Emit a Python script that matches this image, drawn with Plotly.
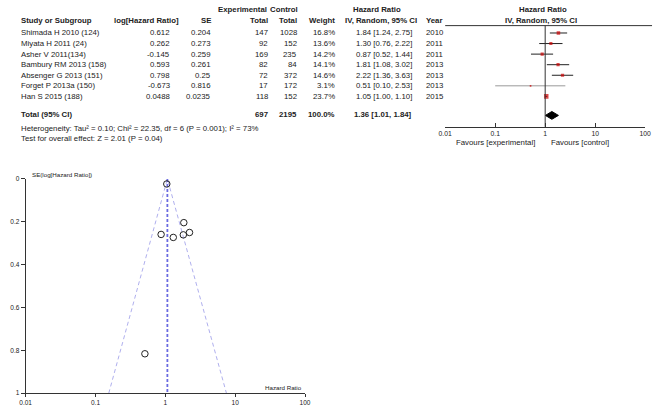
import plotly.graph_objects as go

# data read from the RevMan forest + funnel plot
studies = ["Shimada H 2010 (124)", "Miyata H 2011 (24)", "Asher V 2011(134)",
           "Bambury RM 2013 (158)", "Absenger G 2013 (151)", "Forget P 2013a (150)",
           "Han S 2015 (188)"]
log_hr = [0.612, 0.262, -0.145, 0.593, 0.798, -0.673, 0.0488]
se = [0.204, 0.273, 0.259, 0.261, 0.25, 0.816, 0.0235]
exp_total = [147, 92, 169, 82, 72, 17, 118]
ctrl_total = [1028, 152, 235, 84, 372, 172, 152]
weight = [16.8, 13.6, 14.2, 14.1, 14.6, 3.1, 23.7]
hr = [1.84, 1.30, 0.87, 1.81, 2.22, 0.51, 1.05]
ci_low = [1.24, 0.76, 0.52, 1.08, 1.36, 0.10, 1.00]
ci_high = [2.75, 2.22, 1.44, 3.02, 3.63, 2.53, 1.10]
years = [2010, 2011, 2011, 2013, 2013, 2013, 2015]

total_exp = 697
total_ctrl = 2195
total_hr = 1.36
total_low = 1.01
total_high = 1.84

# funnel: apex (fixed-effect HR) and 95% limits at SE = 1
funnel_center = 1.07
funnel_low_at_1 = 0.155
funnel_high_at_1 = 7.5

tick_vals = [0.01, 0.1, 1, 10, 100]
tick_text = ["0.01", "0.1", "1", "10", "100"]
se_ticks = [0, 0.2, 0.4, 0.6, 0.8, 1]

W, H = 660, 407
FONT = "Liberation Sans, Arial, sans-serif"
TXT = "#222222"


def px(x):
    return x / W


def py(y):
    return 1 - y / H


# row layout of the forest part (row index -> y axis)
rows = list(range(len(studies)))
total_row = 7.8
fy_top, fy_bot = 22, 125  # pixels
row0_px, row_step = 29.5, 10.75


def row_px(r):
    return row0_px + r * row_step


fig = go.Figure()

# ---- forest plot ----
for i in rows:
    fig.add_trace(go.Scatter(
        x=[ci_low[i], ci_high[i]], y=[i, i], mode="lines",
        line=dict(color="#999999" if weight[i] < 5 else "#222222", width=1),
        xaxis="x", yaxis="y", showlegend=False, hoverinfo="skip"))

fig.add_trace(go.Scatter(
    x=hr, y=rows, mode="markers",
    marker=dict(symbol="square", color="#cc0000",
                size=[1.2 + w * 0.14 for w in weight], line=dict(width=0)),
    xaxis="x", yaxis="y", showlegend=False))

fig.add_trace(go.Scatter(
    x=[total_low, total_hr, total_high, total_hr, total_low],
    y=[total_row, total_row - 0.37, total_row, total_row + 0.37, total_row],
    mode="lines", fill="toself", fillcolor="black", line=dict(color="black", width=1),
    xaxis="x", yaxis="y", showlegend=False))

# ---- funnel plot ----
fig.add_trace(go.Scatter(
    x=[funnel_low_at_1, funnel_center, funnel_high_at_1], y=[1, 0, 1], mode="lines",
    line=dict(color="#9a9ae8", width=0.8, dash="4px,3px"),
    xaxis="x2", yaxis="y2", showlegend=False))
fig.add_trace(go.Scatter(
    x=[funnel_center, funnel_center], y=[0, 1], mode="lines",
    line=dict(color="#6a6ae0", width=1.8, dash="3px,2px"),
    xaxis="x2", yaxis="y2", showlegend=False))
fig.add_trace(go.Scatter(
    x=hr, y=se, mode="markers",
    marker=dict(symbol="circle-open", color="#222222", size=6.5, line=dict(width=1)),
    xaxis="x2", yaxis="y2", showlegend=False))

# ---- table text ----
ann = []


def text(x, y, s, anchor="left", bold=False, size=7.8):
    ann.append(dict(x=x, y=y, xref="paper", yref="paper", text=f"<b>{s}</b>" if bold else s,
                    showarrow=False, xanchor=anchor, yanchor="middle",
                    font=dict(family=FONT, size=size, color=TXT)))


# headers
text(px(267), py(6), "Experimental", "right", True)
text(px(299), py(6), "Control", "right", True)
text(px(377), py(6), "Hazard Ratio", "center", True)
text(px(547), py(6), "Hazard Ratio", "center", True)
text(px(12), py(17), "Study or Subgroup", "left", True)
text(px(177), py(17), "log[Hazard Ratio]", "right", True)
text(px(210), py(17), "SE", "right", True)
text(px(268), py(17), "Total", "right", True)
text(px(298), py(17), "Total", "right", True)
text(px(337), py(17), "Weight", "right", True)
text(px(343), py(17), "IV, Random, 95% CI", "left", True)
text(px(425), py(17), "Year", "left", True)
text(px(545), py(17), "IV, Random, 95% CI", "center", True)

for i in rows:
    y = py(row_px(i))
    text(px(12), y, studies[i])
    text(px(168), y, str(log_hr[i]), "right")
    text(px(210), y, str(se[i]), "right")
    text(px(268), y, str(exp_total[i]), "right")
    text(px(298), y, str(ctrl_total[i]), "right")
    text(px(337), y, f"{weight[i]}%", "right")
    text(px(415), y, f"{hr[i]:.2f} [{ci_low[i]:.2f}, {ci_high[i]:.2f}]", "right")
    text(px(425), y, str(years[i]))

ty = py(row_px(total_row) - 1)
text(px(12), ty, "Total (95% CI)", "left", True)
text(px(268), ty, str(total_exp), "right", True)
text(px(298), ty, str(total_ctrl), "right", True)
text(px(337), ty, "100.0%", "right", True)
text(px(415), ty, f"{total_hr:.2f} [{total_low:.2f}, {total_high:.2f}]", "right", True)
text(px(12), py(127), "Heterogeneity: Tau² = 0.10; Chi² = 22.35, df = 6 (P = 0.001); I² = 73%")
text(px(12), py(137), "Test for overall effect: Z = 2.01 (P = 0.04)")
text(px(541), py(141), "Favours [experimental]", "right")
text(px(553), py(141), "Favours [control]", "left")

# funnel labels
text(px(23), py(173), "SE(log[Hazard Ratio])", "left", size=6.2)
text(px(303), py(390), "Hazard Ratio", "right", size=6.2)

fig.update_layout(
    width=W, height=H, margin=dict(l=0, r=0, t=0, b=0),
    paper_bgcolor="white", plot_bgcolor="white",
    font=dict(family=FONT, color=TXT),
    annotations=ann,
    xaxis=dict(type="log", range=[-2, 2], domain=[px(447), px(651)], anchor="y",
               showgrid=False, zeroline=False, showline=True, linecolor="#333", linewidth=1,
               ticks="inside", ticklen=4, tickcolor="#333", tickvals=tick_vals, ticktext=tick_text,
               tickfont=dict(size=6.8, family=FONT, color=TXT)),
    yaxis=dict(range=[(fy_bot - row0_px) / row_step, (fy_top - row0_px) / row_step],
               domain=[py(fy_bot), py(fy_top)], visible=False, fixedrange=True),
    xaxis2=dict(type="log", range=[-2, 2], domain=[px(19), px(304)], anchor="y2",
                showgrid=False, zeroline=False, showline=True, linecolor="#333", linewidth=1,
                ticks="outside", ticklen=3, tickcolor="#333", tickvals=tick_vals, ticktext=tick_text,
                tickfont=dict(size=6.5, family=FONT, color=TXT)),
    yaxis2=dict(range=[1, 0], domain=[py(396), py(178)], anchor="x2",
                showgrid=False, zeroline=False, showline=True, linecolor="#333", linewidth=1,
                ticks="outside", ticklen=4, tickcolor="#333", tickvals=se_ticks,
                ticktext=["0", "0.2", "0.4", "0.6", "0.8", "1"],
                tickfont=dict(size=6.5, family=FONT, color=TXT)),
    shapes=[
        dict(type="line", xref="paper", yref="paper", x0=px(447), x1=px(658),
             y0=py(fy_top), y1=py(fy_top), line=dict(color="#333", width=1)),
        dict(type="line", xref="x", yref="paper", x0=1, x1=1,
             y0=py(fy_bot), y1=py(fy_top), line=dict(color="#333", width=1)),
    ],
)

# remove the default page margin so the 660x407 figure fills the window
fig.write_html("out.html", config={"displayModeBar": False},
               post_script="document.body.style.margin='0';")
